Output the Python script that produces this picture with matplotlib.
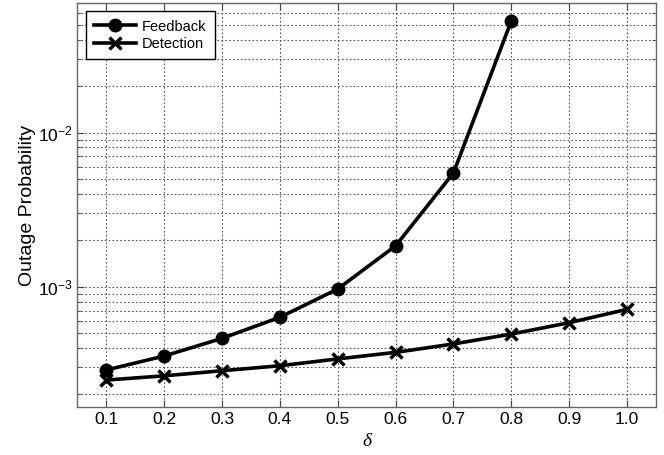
import matplotlib
matplotlib.use("Agg")
import matplotlib.pyplot as plt
from matplotlib.ticker import LogLocator, NullFormatter

plt.rcParams['font.family'] = ['Liberation Sans', 'DejaVu Sans']
plt.rcParams['mathtext.fontset'] = 'custom'
plt.rcParams['mathtext.rm'] = 'Liberation Sans'
plt.rcParams['mathtext.it'] = 'Liberation Sans:italic'

delta = [0.1, 0.2, 0.3, 0.4, 0.5, 0.6, 0.7, 0.8, 0.9, 1.0]
feedback = [2.88e-4, 3.55e-4, 4.62e-4, 6.33e-4, 9.66e-4, 1.84e-3, 5.47e-3, 5.31e-2]
detection = [2.48e-4, 2.64e-4, 2.85e-4, 3.07e-4, 3.40e-4, 3.75e-4, 4.25e-4,
             4.93e-4, 5.84e-4, 7.13e-4]
xticks = delta

fig = plt.figure(figsize=(6.64, 4.55), dpi=100)
ax = fig.add_axes([0.1164, 0.1048, 0.8716, 0.8892])

ax.semilogy(delta[:len(feedback)], feedback, '-o', color='black', lw=2.6,
            ms=9, label='Feedback')
ax.semilogy(delta, detection, '-x', color='black', lw=2.6, ms=9, mew=2.5,
            label='Detection')

ax.set_xlim(0.05, 1.05)
ax.set_ylim(1.65e-4, 0.0695)
ax.set_xticks(xticks)
ax.set_xticklabels(['%.1f' % v for v in xticks])
ax.yaxis.set_major_locator(LogLocator(base=10, numticks=10))
ax.yaxis.set_minor_locator(LogLocator(base=10, subs=range(2, 10), numticks=20))
ax.yaxis.set_minor_formatter(NullFormatter())

ax.grid(True, which='major', axis='both', linestyle=(0, (1.5, 2)), color='#555555', lw=0.8)
ax.grid(True, which='minor', axis='y', linestyle=(0, (1.5, 2)), color='#555555', lw=0.8)

ax.tick_params(which='both', direction='in', top=True, right=True, labelsize=12.5,
               color='#444444')
ax.tick_params(which='major', length=5)
ax.tick_params(which='minor', length=3)
for s in ax.spines.values():
    s.set_color('#666666')
    s.set_linewidth(1.0)

ax.set_ylabel('Outage Probability', fontsize=14, labelpad=1)
ax.set_xlabel('δ', fontsize=14, family=['Liberation Serif', 'DejaVu Serif'],
              style='italic', labelpad=4)

leg = ax.legend(loc='upper left', fontsize=10.5, fancybox=False, framealpha=1,
                edgecolor='black', handlelength=2.9, borderaxespad=0.6,
                borderpad=0.55, labelspacing=0.25, handletextpad=0.4)
leg.get_frame().set_linewidth(1.0)

fig.savefig('out.png', dpi=100)
